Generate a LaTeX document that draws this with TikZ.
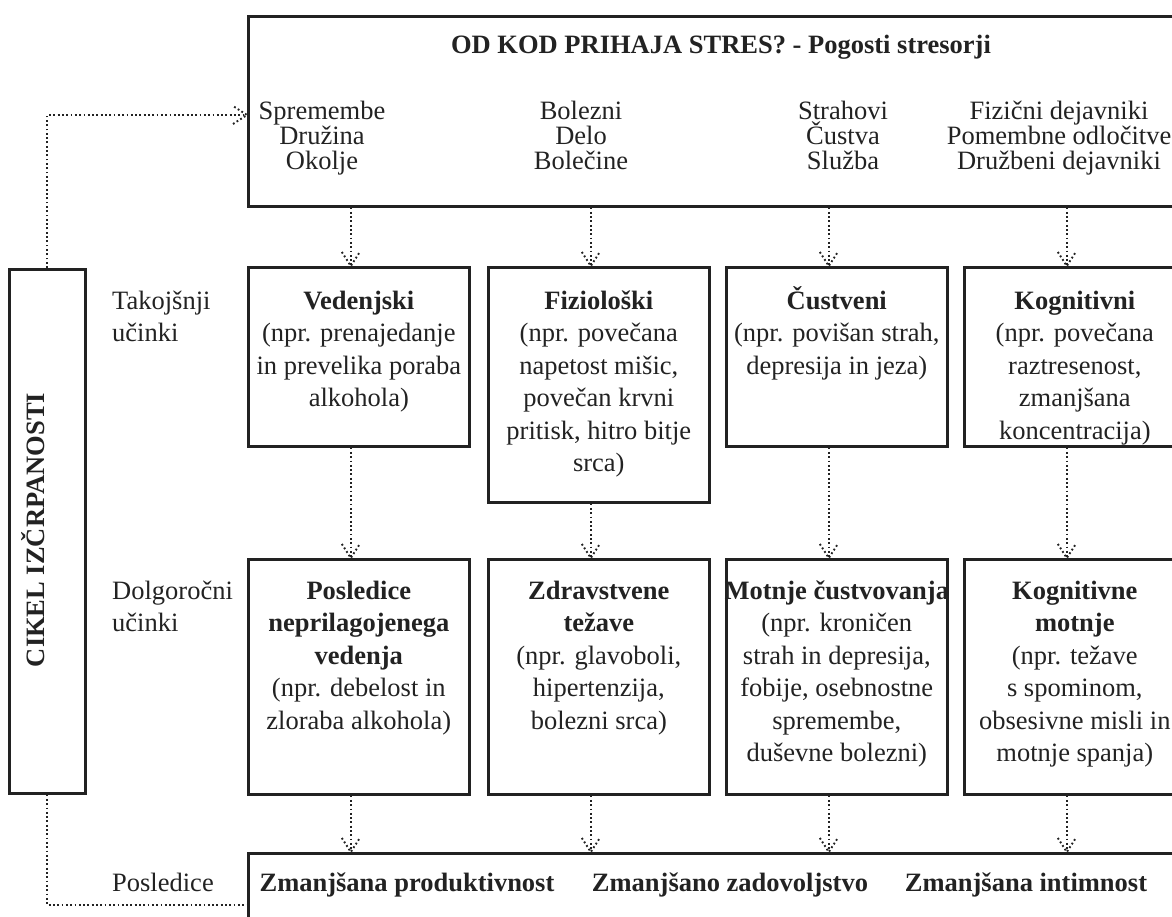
\documentclass[tikz,border=0pt]{standalone}
\usepackage{fontspec}
\setmainfont{Liberation Serif}
\usetikzlibrary{calc,decorations.markings}
\definecolor{ink}{HTML}{222222}
% body text, tight leading for the stressor list, strut for the first line
\newcommand{\fs}{\fontsize{26.5}{32.5}\selectfont}
\newcommand{\fst}{\fontsize{26.5}{25}\selectfont}
\newcommand{\up}{\rule{0pt}{24pt}}

\begin{document}
\begin{tikzpicture}[x=1pt,y=-1pt,
  frame/.style={draw=ink, line width=2.6pt, inner sep=0pt, anchor=north west, rectangle},
  txt/.style={align=center, anchor=north, inner sep=0pt, text=ink, font=\fs},
  lbl/.style={align=left, anchor=north west, inner sep=0pt, text=ink, font=\fs},
  dots/.style={draw=ink, line width=1.9pt, dash pattern=on 1.8pt off 2.5pt},
  darrow/.style={dots, postaction=decorate, decoration={markings,
      mark=at position 1 with {\draw[dots] (-14pt,-9pt) -- (0pt,0pt) -- (-14pt,9pt);}}},
]
\useasboundingbox (0,0) rectangle (1172,917);
\clip (0,0) rectangle (1172,917);

% ---- sources of stress ----
\node[frame, minimum width=945pt, minimum height=190pt] (src) at (247,15) {};
\node[anchor=base, inner sep=0pt, text=ink, font=\bfseries\fs] (ttl) at (721,54)
  {OD KOD PRIHAJA STRES? - Pogosti stresorji};
\node[txt, font=\fst] (s1) at (322,95) {\up Spremembe\\Družina\\Okolje};
\node[txt, font=\fst] (s2) at (581,95) {\up Bolezni\\Delo\\Bolečine};
\node[txt, font=\fst] (s3) at (843,95) {\up Strahovi\\Čustva\\Služba};
\node[txt, font=\fst] (s4) at (1059,95) {\up Fizični dejavniki\\Pomembne odločitve\\Družbeni dejavniki};

% ---- immediate effects ----
\node[frame, minimum width=221pt, minimum height=179pt] (r1) at (247,266) {};
\node[frame, minimum width=221pt, minimum height=235pt] (r2) at (487,266) {};
\node[frame, minimum width=221pt, minimum height=179pt] (r3) at (725,266) {};
\node[frame, minimum width=221pt, minimum height=179pt] (r4) at (963,266) {};
\node[txt] (t1) at (r1.north |- 0,285) {\up\textbf{Vedenjski}\\(npr. prenajedanje\\in prevelika poraba\\alkohola)};
\node[txt] (t2) at (r2.north |- 0,285) {\up\textbf{Fiziološki}\\(npr. povečana\\napetost mišic,\\povečan krvni\\pritisk, hitro bitje\\srca)};
\node[txt] (t3) at (r3.north |- 0,285) {\up\textbf{Čustveni}\\(npr. povišan strah,\\depresija in jeza)};
\node[txt] (t4) at (r4.north |- 0,285) {\up\textbf{Kognitivni}\\(npr. povečana\\raztresenost,\\zmanjšana\\koncentracija)};

% ---- long-term effects ----
\node[frame, minimum width=221pt, minimum height=235pt] (u1) at (247,558) {};
\node[frame, minimum width=221pt, minimum height=235pt] (u2) at (487,558) {};
\node[frame, minimum width=221pt, minimum height=235pt] (u3) at (725,558) {};
\node[frame, minimum width=221pt, minimum height=235pt] (u4) at (963,558) {};
\node[txt] (v1) at (u1.north |- 0,575) {\up\textbf{Posledice}\\\textbf{neprilagojenega}\\\textbf{vedenja}\\(npr. debelost in\\zloraba alkohola)};
\node[txt] (v2) at (u2.north |- 0,575) {\up\textbf{Zdravstvene}\\\textbf{težave}\\(npr. glavoboli,\\hipertenzija,\\bolezni srca)};
\node[txt] (v3) at (u3.north |- 0,575) {\up\textbf{Motnje čustvovanja}\\(npr. kroničen\\strah in depresija,\\fobije, osebnostne\\spremembe,\\duševne bolezni)};
\node[txt] (v4) at (u4.north |- 0,575) {\up\textbf{Kognitivne}\\\textbf{motnje}\\(npr. težave\\s spominom,\\obsesivne misli in\\motnje spanja)};

% ---- consequences ----
\node[frame, minimum width=945pt, minimum height=120pt] (sink) at (247,852) {};
\node[anchor=base, inner sep=0pt, text=ink, font=\bfseries\fs] (c1) at (407,891) {Zmanjšana produktivnost};
\node[anchor=base, inner sep=0pt, text=ink, font=\bfseries\fs] (c2) at (730,891) {Zmanjšano zadovoljstvo};
\node[anchor=base, inner sep=0pt, text=ink, font=\bfseries\fs] (c3) at (1026,891) {Zmanjšana intimnost};

% ---- row labels ----
\node[lbl] (l1) at (112,285) {\up Takojšnji\\učinki};
\node[lbl] (l2) at (112,575) {\up Dolgoročni\\učinki};
\node[anchor=base west, inner sep=0pt, text=ink, font=\fs] (l3) at (112,891) {Posledice};

% ---- exhaustion cycle ----
\node[frame, minimum width=76pt, minimum height=524pt] (cyc) at (8,268) {};
\node[rotate=90, inner sep=0pt, text=ink, font=\bfseries\fs] (cyct) at (33,530) {CIKEL IZČRPANOSTI};
\coordinate (lt) at (0,115);
\coordinate (lb) at (0,905);
\draw[darrow] (cyc.north) |- (src.west |- lt);
\draw[dots] (cyc.south) |- (sink.west |- lb);

% ---- connectors ----
\foreach \r/\u in {r1/u1, r2/u2, r3/u3, r4/u4}{
  \draw[darrow] ($(\r.north |- src.south)+(-8,0)$) -- ($(\r.north)+(-8,0)$);
  \draw[darrow] ($(\r.south)+(-8,0)$) -- ($(\u.north)+(-8,0)$);
  \draw[darrow] ($(\u.south)+(-8,0)$) -- ($(\u.south |- sink.north)+(-8,0)$);
}
\end{tikzpicture}
\end{document}
